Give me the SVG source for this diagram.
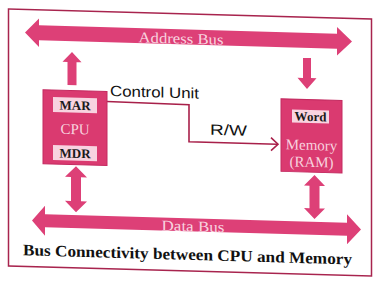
<svg xmlns="http://www.w3.org/2000/svg" width="388" height="293" viewBox="0 0 388 293">
<style>
.bus{fill:#dd4077;}
.box{fill:#da3a70;stroke:#c42a60;stroke-width:1;}
.lbl{fill:#f8d3e0;}
.lt{font-family:"Liberation Serif",serif;font-weight:bold;font-size:13px;fill:#1a1a1a;text-anchor:middle;}
.wt{font-family:"Liberation Serif",serif;font-size:15px;fill:#f8d2df;text-anchor:middle;}
.st{font-family:"Liberation Sans",sans-serif;font-size:15px;fill:#111;}
.ln{fill:none;stroke:#a8204a;stroke-width:1.6;}
</style>
<rect width="388" height="293" fill="#ffffff"/>
<g transform="matrix(1,0.028,0,1,0,0)">
<rect x="8.5" y="8.7" width="363" height="257" fill="none" stroke="#a8244e" stroke-width="1.5"/>
<g id="connectors">
<g id="address-bus">
<polygon class="bus" points="25,31.75 39,17.5 39,24.25 337,24.25 337,17.5 352,31.75 337,46 337,39.25 39,39.25 39,46"/>
<text class="wt" x="181" y="38.5" textLength="85" lengthAdjust="spacingAndGlyphs">Address Bus</text>
</g>
<g id="data-bus">
<polygon class="bus" points="32,219.5 45,204.5 45,213 347,213 347,204.5 361,219.5 347,234.5 347,226 45,226 45,234.5"/>
<text class="wt" x="193" y="226" font-size="16" textLength="63" lengthAdjust="spacingAndGlyphs">Data Bus</text>
</g>
<polygon id="cpu-to-address" class="bus" points="72,50 81.5,60 76.5,60 76.5,83 67.5,83 67.5,60 62.5,60"/>
<polygon id="address-to-memory" class="bus" points="303,49.4 311,49.4 311,69.4 316.5,69.4 307,80.4 297.5,69.4 303,69.4"/>
<polygon id="cpu-data" class="bus" points="76,164 87,175 81,175 81,199 87,199 76,210 65,199 71,199 71,175 65,175"/>
<polygon id="memory-data" class="bus" points="314.5,166.2 325,177 319.5,177 319.5,199.5 325,199.5 314.5,210.2 304,199.5 309.5,199.5 309.5,177 304,177"/>
<g id="control-line">
<polyline class="ln" points="107,98.5 189,99.5 189,136.5 277,136.5"/>
<polyline class="ln" points="271,130 278,136.5 271,143"/>
</g>
</g>
<text class="st" x="110" y="93" textLength="89" lengthAdjust="spacingAndGlyphs">Control Unit</text>
<text class="st" x="210" y="128.8" textLength="37" lengthAdjust="spacingAndGlyphs">R/W</text>
<g id="cpu">
<rect class="box" x="43" y="88.5" width="64" height="74"/>
<rect class="lbl" x="53" y="95.5" width="44" height="15"/>
<text class="lt" x="75" y="107.8">MAR</text>
<text class="wt" x="75" y="132" font-size="16">CPU</text>
<rect class="lbl" x="53" y="143.5" width="44" height="15"/>
<text class="lt" x="75" y="155.8">MDR</text>
</g>
<g id="memory">
<rect class="box" x="281" y="91" width="61" height="72.5"/>
<rect class="lbl" x="292" y="101.3" width="37" height="13"/>
<text class="lt" x="310.5" y="112.3">Word</text>
<text class="wt" x="311.5" y="141.3">Memory</text>
<text class="wt" x="311.5" y="158.3">(RAM)</text>
</g>
<text x="23" y="254.6" font-family="Liberation Serif,serif" font-weight="bold" font-size="16" fill="#111" textLength="329" lengthAdjust="spacingAndGlyphs">Bus Connectivity between CPU and Memory</text>
</g>
</svg>
